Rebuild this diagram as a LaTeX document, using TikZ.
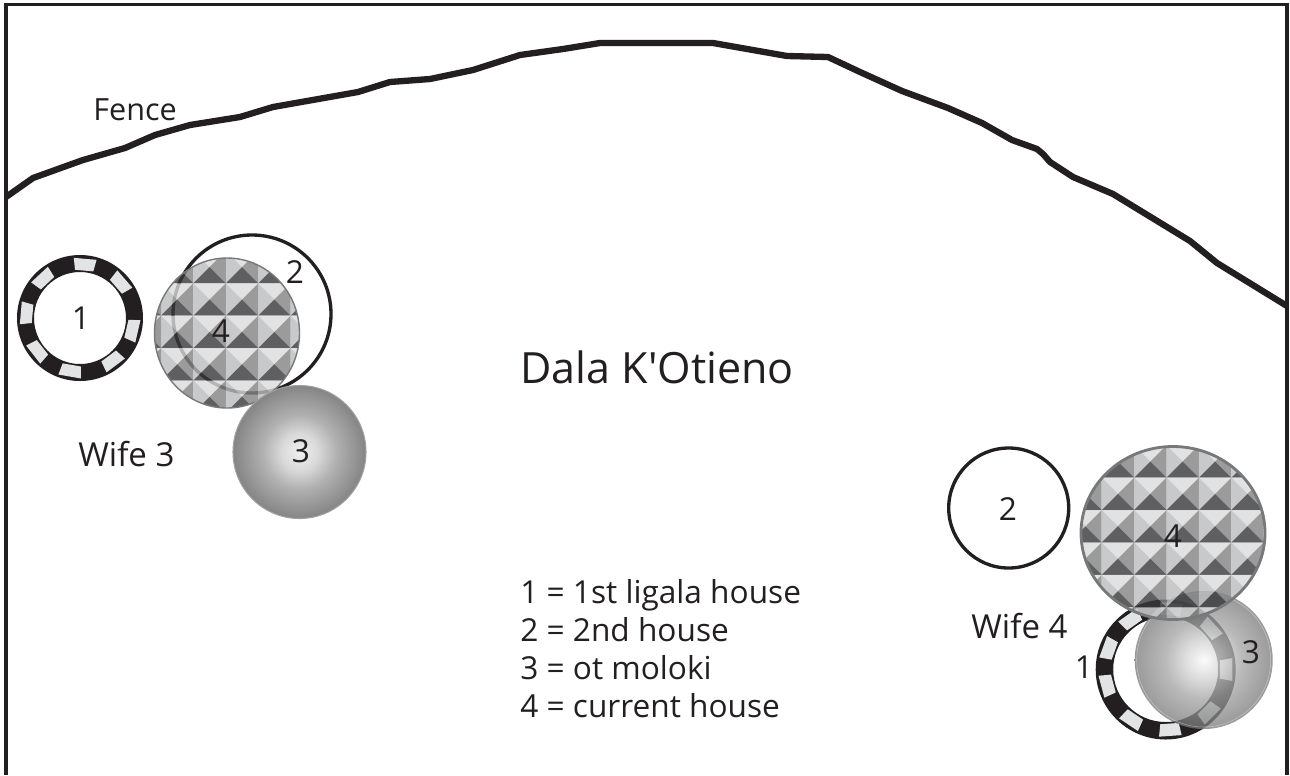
\documentclass[tikz,border=0pt]{standalone}
\usepackage{fontspec}
\setmainfont{Open Sans}[Ligatures=TeXOff]
\definecolor{inkblack}{HTML}{231F20}
\definecolor{dashgrey}{HTML}{E1E3E4}
\definecolor{studtop}{HTML}{DBDBDC}
\definecolor{studleft}{HTML}{BBBCBD}
\definecolor{studright}{HTML}{828384}
\definecolor{studbottom}{HTML}{37383A}
\definecolor{edgegrey}{HTML}{77787A}

\pgfdeclareradialshading{molokiball}{\pgfpoint{0bp}{0bp}}{
    color(0bp)=(black!6); color(7bp)=(black!15); color(14bp)=(black!31);
    color(25bp)=(black!48); color(50bp)=(black!48)}
\pgfdeclareradialshading{molokiglass}{\pgfpoint{0bp}{0bp}}{
    color(0bp)=(black!2); color(7bp)=(black!18); color(14bp)=(black!36);
    color(25bp)=(black!53); color(50bp)=(black!53)}

\tikzset{
    houselabel/.style={text=inkblack, font=\fontsize{18}{21}\selectfont, inner sep=0pt},
    placelabel/.style={houselabel, anchor=base west},
    fence/.style={inkblack, line width=3.6pt, line join=round},
    frameline/.style={inkblack, line width=2pt},
    plainhouse/.style={inkblack, line width=1.9pt},
}

% Ring house: centre x, y, outer radius, inner radius, dash angles
\newcommand{\ringhouse}[5]{
    \fill[inkblack, even odd rule] (#1,#2) circle (#3) (#1,#2) circle (#4);
    \pgfmathsetmacro{\halfdash}{600/(#3-8)}
    \foreach \ang in {#5} {
        \fill[dashgrey, shift={(#1,#2)}] (-\ang-\halfdash:#3-2.5) -- (-\ang+\halfdash:#3-2.5)
            -- (-\ang+\halfdash:#4+2.5) -- (-\ang-\halfdash:#4+2.5) -- cycle;
    }
}

% Studded house: centre x, y, radii, grid origin x, y
\newcommand{\studhouse}[6]{
    \begin{scope}[opacity=0.8]
        \clip (#1,#2) ellipse ({#3} and {#4});
        \foreach \col in {0,...,6} {
            \foreach \row in {0,...,6} {
                \begin{scope}[shift={(#5+\col*32.4,#6+\row*32.4)}]
                    \fill[studtop] (0,0) -- (32.4,0) -- (16.2,16.2) -- cycle;
                    \fill[studleft] (0,0) -- (0,32.4) -- (16.2,16.2) -- cycle;
                    \fill[studright] (32.4,0) -- (32.4,32.4) -- (16.2,16.2) -- cycle;
                    \fill[studbottom] (0,32.4) -- (32.4,32.4) -- (16.2,16.2) -- cycle;
                \end{scope}
            }
        }
    \end{scope}
}

\begin{document}
\begin{tikzpicture}[x=0.02cm, y=-0.02cm]
    \useasboundingbox (0,0) rectangle (1290,775);
    \fill[white] (0,0) rectangle (1290,775);

    % Frame, open at the bottom
    \draw[frameline] (6,775) -- (6,4.7) -- (1287,4.7) -- (1287,775);

    % Fence
    \draw[fence] (6,197) -- (33,178) -- (83,160) -- (125,148) -- (155,135) -- (190,125)
        -- (240,117) -- (273,107) -- (358,92) -- (390,82) -- (430,79) -- (473,70)
        -- (520,55) -- (563,49) -- (600,43) -- (713,43) -- (787,56) -- (828,57)
        -- (860,72) -- (902,91) -- (948,108) -- (982,123) -- (1012,140) -- (1037,149)
        -- (1043,154) -- (1050,162) -- (1073,177) -- (1113,194) -- (1190,241)
        -- (1217,263) -- (1287,306);

    % Wife 3 houses
    \ringhouse{80}{318}{63}{46}{85,41,-13,-53,-100,-142,175,133}
    \draw[plainhouse] (252,314) circle (79);
    \studhouse{227}{333}{72.5}{75}{128.6}{250.9}
    \draw[edgegrey, line width=0.8pt] (227,333) ellipse ({72.5} and {75});
    \shade[shading=molokiball] (299.5,452) circle (66.5);
    \draw[edgegrey!70, line width=0.6pt] (299.5,452) circle (66.5);

    % Wife 4 houses
    \draw[plainhouse] (1008.7,508) circle (60);
    \ringhouse{1165.7}{669.5}{70}{52.5}{-86,-124,-165,160,125,85,42,0,-45}
    \shade[shading=molokiglass, opacity=0.75] (1203.7,660) circle (69);
    \draw[white, opacity=0.4, line width=0.3pt] (1203.7,660) circle (67);
    \studhouse{1173}{533}{93}{87.5}{1069.3}{445.3}
    \draw[edgegrey, line width=1.6pt] (1173,533) ellipse ({92} and {86.5});

    % House numbers
    \node[houselabel] (ringa) at (81,318) {1};
    \node[houselabel] (plaina) at (295,272) {2};
    \node[houselabel] (molokia) at (301,451) {3};
    \node[houselabel] (studa) at (221,331) {4};
    \node[houselabel] (ringb) at (1084,667) {1};
    \node[houselabel] (plainb) at (1008,509) {2};
    \node[houselabel] (molokib) at (1251,652) {3};
    \node[houselabel] (studb) at (1173,536) {4};

    % Names
    \node[placelabel, font=\fontsize{17.4}{21}\selectfont] (fencename) at (93,120) {Fence};
    \node[placelabel, font=\fontsize{18.8}{21}\selectfont] (wifea) at (78,466) {Wife 3};
    \node[placelabel, font=\fontsize{18.8}{21}\selectfont] (wifeb) at (971,638) {Wife 4};
    \node[placelabel, font=\fontsize{24.5}{28}\selectfont] (dala) at (520,383) {Dala K'Otieno};

    % Legend
    \node[placelabel] (keya) at (520,603) {1 = 1st ligala house};
    \node[placelabel] (keyb) at (520,641.5) {2 = 2nd house};
    \node[placelabel] (keyc) at (520,679.5) {3 = ot moloki};
    \node[placelabel] (keyd) at (520,717) {4 = current house};
\end{tikzpicture}
\end{document}
